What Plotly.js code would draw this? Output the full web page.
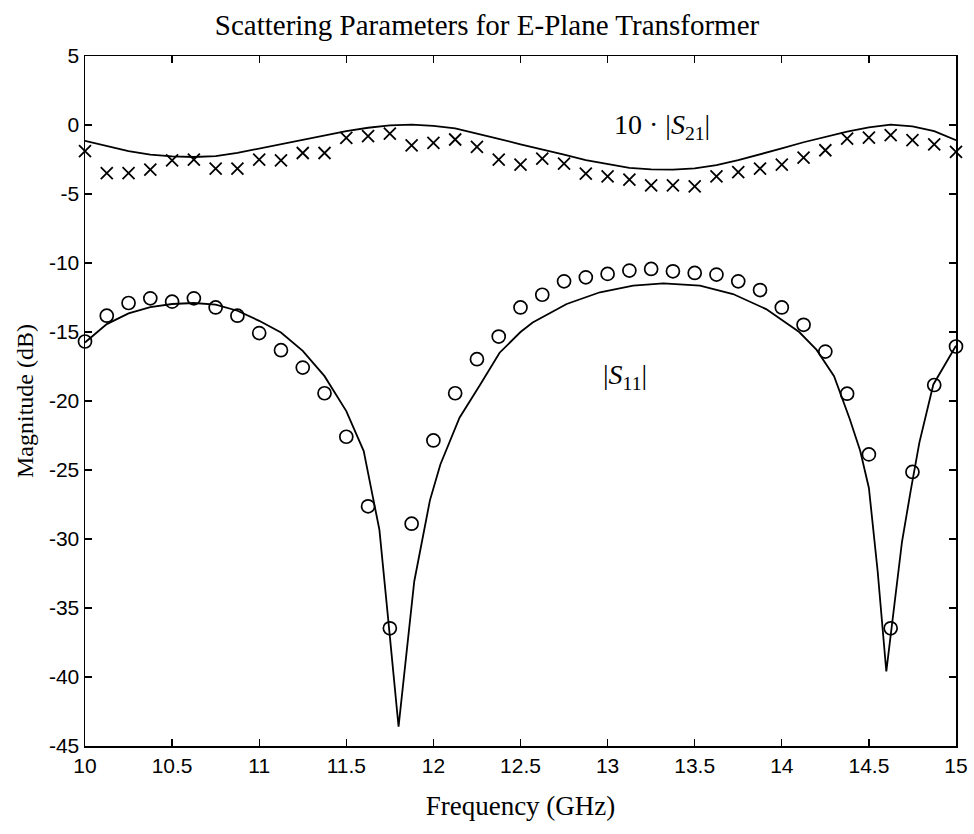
<!DOCTYPE html>
<html>
<head>
<meta charset="utf-8">
<script src="https://cdn.plot.ly/plotly-3.0.1.min.js"></script>
<style>html,body{margin:0;padding:0;background:#fff;}</style>
</head>
<body>
<div id="chart" style="width:974px;height:834px;"></div>
<script>
// Measured frequencies (GHz)
var measFreq = [10.0,10.125,10.25,10.375,10.5,10.625,10.75,10.875,11.0,11.125,11.25,11.375,11.5,11.625,11.75,11.875,12.0,12.125,12.25,12.375,12.5,12.625,12.75,12.875,13.0,13.125,13.25,13.375,13.5,13.625,13.75,13.875,14.0,14.125,14.25,14.375,14.5,14.625,14.75,14.875,15.0];
// Measured 10*|S21| (dB) – crosses
var s21Meas = [-1.90,-3.48,-3.48,-3.24,-2.56,-2.51,-3.16,-3.16,-2.51,-2.56,-2.03,-2.03,-0.94,-0.81,-0.62,-1.47,-1.30,-1.05,-1.59,-2.51,-2.87,-2.44,-2.80,-3.53,-3.72,-3.96,-4.37,-4.37,-4.45,-3.72,-3.41,-3.16,-2.87,-2.36,-1.83,-0.98,-0.91,-0.74,-1.10,-1.40,-1.95];
// Measured |S11| (dB) – circles
var s11Meas = [-15.69,-13.82,-12.90,-12.56,-12.80,-12.56,-13.22,-13.82,-15.08,-16.32,-17.58,-19.44,-22.59,-27.63,-36.47,-28.89,-22.86,-19.44,-16.97,-15.33,-13.22,-12.30,-11.33,-11.04,-10.79,-10.55,-10.43,-10.60,-10.72,-10.84,-11.33,-11.96,-13.22,-14.48,-16.42,-19.47,-23.87,-36.47,-25.14,-18.84,-16.05];

// Computed 10*|S21| (dB) – solid line
var s21CalcFreq = [10.0,10.125,10.25,10.375,10.5,10.625,10.75,10.875,11.0,11.125,11.25,11.375,11.5,11.625,11.75,11.875,12.0,12.125,12.25,12.375,12.5,12.625,12.75,12.875,13.0,13.125,13.25,13.375,13.5,13.625,13.75,13.875,14.0,14.125,14.25,14.375,14.5,14.625,14.75,14.875,15.0];
var s21Calc = [-1.15,-1.55,-1.9,-2.15,-2.28,-2.32,-2.25,-2.02,-1.71,-1.4,-1.07,-0.77,-0.45,-0.2,-0.03,0.03,-0.07,-0.25,-0.6,-1.0,-1.4,-1.75,-2.15,-2.55,-2.85,-3.1,-3.22,-3.24,-3.15,-2.9,-2.55,-2.15,-1.7,-1.25,-0.85,-0.48,-0.18,0.03,-0.1,-0.45,-1.1];

// Computed |S11| (dB) – solid line
var s11CalcFreq = [10.0,10.125,10.25,10.375,10.5,10.625,10.75,10.875,11.0,11.125,11.25,11.375,11.5,11.6,11.65,11.69,11.74,11.8,11.89,11.98,12.04,12.15,12.27,12.38,12.5,12.57,12.765,12.956,13.147,13.32,13.53,13.72,13.91,14.1,14.2,14.3,14.39,14.45,14.5,14.55,14.6,14.69,14.74,14.79,14.87,15.0];
var s11Calc = [-15.76,-14.43,-13.65,-13.2,-12.97,-12.9,-13.02,-13.46,-14.19,-15.04,-16.37,-18.2,-20.73,-23.63,-26.8,-29.33,-35.75,-43.6,-33.08,-27.2,-24.6,-21.21,-18.79,-16.5,-15.0,-14.31,-12.97,-12.12,-11.64,-11.47,-11.64,-12.25,-13.34,-15.0,-16.3,-18.2,-21.3,-23.6,-26.3,-32.3,-39.6,-30.2,-26.5,-23.0,-18.8,-16.0];

// Tick values and labels
var xTickVals = [10,10.5,11,11.5,12,12.5,13,13.5,14,14.5,15];
var xTickText = ['10','10.5','11','11.5','12','12.5','13','13.5','14','14.5','15'];
var yTickVals = [5,0,-5,-10,-15,-20,-25,-30,-35,-40,-45];
var yTickText = ['5','0','-5','-10','-15','-20','-25','-30','-35','-40','-45'];

var serif = 'Liberation Serif, Times New Roman, serif';
var sans = 'Liberation Sans, Arial, sans-serif';

var traces = [
  {x: s21CalcFreq, y: s21Calc, mode: 'lines', line: {color: '#000', width: 1.8}, hoverinfo: 'skip'},
  {x: s11CalcFreq, y: s11Calc, mode: 'lines', line: {color: '#000', width: 1.8}, hoverinfo: 'skip'},
  {x: measFreq, y: s21Meas, mode: 'markers', marker: {symbol: 'x-thin-open', size: 12, color: '#000', line: {color: '#000', width: 1.8}}, cliponaxis: false},
  {x: measFreq, y: s11Meas, mode: 'markers', marker: {symbol: 'circle-open', size: 13, color: '#000', line: {color: '#000', width: 1.7}}, cliponaxis: false}
];

var axisCommon = {
  showgrid: false, zeroline: false, showline: true, linecolor: '#000', linewidth: 1.5,
  mirror: 'ticks', ticks: 'inside', ticklen: 7, tickwidth: 1.3, tickcolor: '#000',
  tickmode: 'array',
  tickfont: {family: sans, size: 21, color: '#000'}
};

var layout = {
  width: 974, height: 834,
  margin: {l: 85, r: 18, t: 56, b: 88},
  paper_bgcolor: '#fff', plot_bgcolor: '#fff',
  showlegend: false,
  title: {text: 'Scattering Parameters for E-Plane Transformer', font: {family: serif, size: 29, color: '#000'},
          x: 0.5, xref: 'container', xanchor: 'center', y: 0.97, yref: 'container', yanchor: 'middle'},
  xaxis: Object.assign({}, axisCommon, {range: [10, 15], tickvals: xTickVals, ticktext: xTickText,
          title: {text: 'Frequency (GHz)', font: {family: serif, size: 27, color: '#000'}, standoff: 20}}),
  yaxis: Object.assign({}, axisCommon, {range: [-45, 5], tickvals: yTickVals, ticktext: yTickText,
          title: {text: 'Magnitude (dB)', font: {family: serif, size: 24, color: '#000'}, standoff: 8}}),
  annotations: [
    {x: 13.31, y: -0.09, xref: 'x', yref: 'y', showarrow: false, text: '10 · |<i>S</i><sub>21</sub>|', font: {family: serif, size: 28, color: '#000'}},
    {x: 13.10, y: -18.26, xref: 'x', yref: 'y', showarrow: false, text: '|<i>S</i><sub>11</sub>|', font: {family: serif, size: 28, color: '#000'}}
  ]
};

Plotly.newPlot('chart', traces, layout, {displayModeBar: false, staticPlot: true});
</script>
</body>
</html>
